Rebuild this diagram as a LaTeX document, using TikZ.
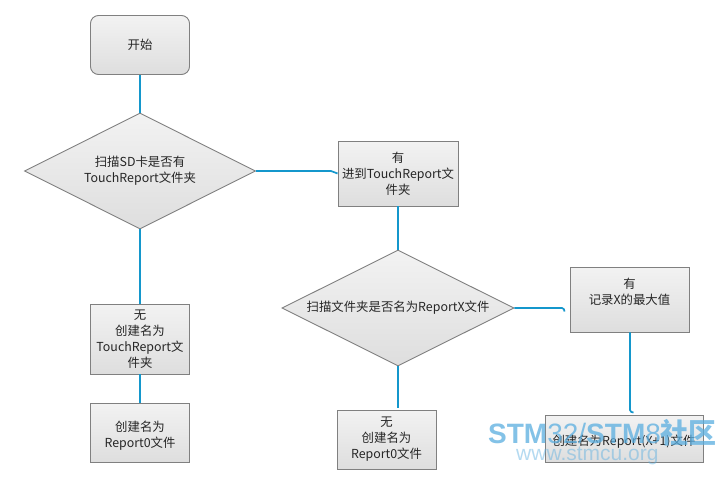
\documentclass[tikz,border=0pt]{standalone}
\usepackage{fontspec}
\setmainfont{Noto Sans CJK SC}
\newfontfamily\wmfont{Liberation Sans}
\newfontfamily\wmcjk{Noto Sans CJK SC}
\usetikzlibrary{shapes.geometric}
\definecolor{linkblue}{HTML}{1497CC}
\definecolor{boxborder}{HTML}{808080}
\definecolor{wmblue}{HTML}{5AAEE0}
\tikzset{
  box/.style={draw=boxborder, line width=0.9pt, top color=white!95!black, bottom color=white!87!black,
    inner sep=0pt, align=center, font=\fontsize{12.4}{16}\selectfont, text=black!85},
  decide/.style={box, shape=diamond, aspect=2},
  link/.style={draw=linkblue, line width=1.7pt},
}
\begin{document}
\begin{tikzpicture}[x=1pt,y=-1pt]
\path[fill=white] (0,0) rectangle (726,479);
\useasboundingbox (0,0) rectangle (726,479);

\node[box, rounded corners=8pt, minimum width=99pt, minimum height=59pt] (start) at (140,45) {开始};
\node[decide, minimum width=231pt, minimum height=116pt] (d1) at (140,171) {扫描SD卡是否有\\TouchReport文件夹};
\node[box, minimum width=120pt, minimum height=65pt] (b1) at (398,173.5) {有\\进到TouchReport文\\件夹};
\node[decide, minimum width=232pt, minimum height=116pt] (d2) at (398,308) {扫描文件夹是否名为ReportX文件};
\node[box, minimum width=119pt, minimum height=65pt] (rec) at (629.5,299.5) {有\\记录X的最大值\\\mbox{}};
\node[box, minimum width=158pt, minimum height=47pt] (fin) at (624,438.5) {\mbox{}\\创建名为Report(X+1)文件};
\node[box, minimum width=99pt, minimum height=70pt] (l1) at (140,339) {无\\创建名为\\TouchReport文\\件夹};
\node[box, minimum width=99pt, minimum height=59pt] (l2) at (140,432.5) {\mbox{}\\创建名为\\Report0文件};
\node[box, minimum width=99pt, minimum height=59pt] (m1) at (386.5,439.5) {无\\创建名为\\Report0文件};

\coordinate (j1) at (331,171);
\coordinate (j2) at (562,308);
\coordinate (e2) at (564.5,311.5);
\coordinate (j3) at (630,410);
\coordinate (e3) at (633.5,412.5);
\coordinate (m1top) at (398,408);

\draw[link] (start.south) -- (d1.north);
\draw[link] (d1.east) -- (j1) to[out=0,in=180] (b1.west);
\draw[link] (b1.south) -- (d2.north);
\draw[link] (d2.east) -- (j2) to[out=0,in=90] (e2);
\draw[link] (rec.south -| j3) -- (j3) to[out=-90,in=180] (e3);
\draw[link] (d1.south) -- (l1.north);
\draw[link] (l1.south) -- (l2.north);
\draw[link] (d2.south) -- (m1top);

\node[anchor=west, text=wmblue, opacity=0.75, inner sep=0pt] (wm1) at (488,433)
  {\fontsize{28}{28}\selectfont\wmfont\textbf{STM}32/\textbf{STM}8\wmcjk\textbf{社区}};
\node[anchor=west, text=wmblue, opacity=0.45, inner sep=0pt] (wm2) at (516,456)
  {\fontsize{21}{21}\selectfont\wmfont www.stmcu.org};
\end{tikzpicture}
\end{document}
